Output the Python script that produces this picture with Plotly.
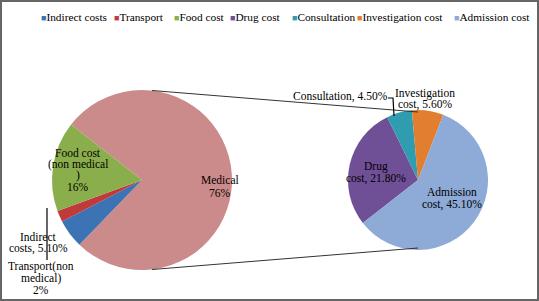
import plotly.graph_objects as go

# ---------------- data ----------------
left_labels = ["Medical", "Indirect costs", "Transport", "Food cost"]
left_values = [76, 5.1, 2, 16]
left_text = ["Medical<br>76%", "Indirect<br>costs, 5.10%",
             "Transport(non<br>medical)<br>2%", "Food cost<br>(non medical<br>)<br>16%"]

right_labels = ["Drug cost", "Consultation", "Investigation cost", "Admission cost"]
right_values = [21.8, 4.5, 5.6, 45.1]
right_text = ["Drug<br>cost, 21.80%", "Consultation, 4.50%",
              "Investigation<br>cost, 5.60%", "Admission<br>cost, 45.10%"]

legend_labels = ["Indirect costs", "Transport", "Food cost", "Drug cost",
                 "Consultation", "Investigation cost", "Admission cost"]

# ---------------- styles ----------------
colors = {
    "Medical": "#CB8B8A",
    "Indirect costs": "#3B73B4",
    "Transport": "#C03A3C",
    "Food cost": "#8BAE4C",
    "Drug cost": "#6F4F96",
    "Consultation": "#2F9CB0",
    "Investigation cost": "#E27E2F",
    "Admission cost": "#8EAAD6",
}
W, H = 539, 301
FONT = "Times New Roman, Liberation Serif, serif"


def px(x):
    return x / W


def py(y):
    return 1 - y / H


# pie geometry (pixels)
LC, LR = (142, 180), 90
RC, RR = (418, 180), 70

fig = go.Figure()
fig.add_trace(go.Pie(
    labels=left_labels, values=left_values, sort=False, direction="clockwise",
    rotation=-52, textinfo="none", hoverinfo="label+percent",
    marker=dict(colors=[colors[l] for l in left_labels], line=dict(width=0)),
    domain=dict(x=[px(LC[0] - LR), px(LC[0] + LR)], y=[py(LC[1] + LR), py(LC[1] - LR)]),
    showlegend=False,
))
fig.add_trace(go.Pie(
    labels=right_labels, values=right_values, sort=False, direction="clockwise",
    rotation=-128, textinfo="none", hoverinfo="label+percent",
    marker=dict(colors=[colors[l] for l in right_labels], line=dict(width=0)),
    domain=dict(x=[px(RC[0] - RR), px(RC[0] + RR)], y=[py(RC[1] + RR), py(RC[1] - RR)]),
    showlegend=False,
))

shapes = []
# connector lines between the pies (top and bottom)
for sgn in (-1, 1):
    shapes.append(dict(type="line", xref="paper", yref="paper",
                       x0=px(LC[0] + 10), y0=py(LC[1] + sgn * (LR - 0.5)),
                       x1=px(RC[0]), y1=py(RC[1] + sgn * (RR - 2)),
                       line=dict(color="#333333", width=1)))
# leader lines
shapes.append(dict(type="line", xref="paper", yref="paper",
                   x0=px(47), y0=py(208), x1=px(47), y1=py(260),
                   line=dict(color="#000000", width=1.2)))
shapes.append(dict(type="path", xref="paper", yref="paper",
                   path=f"M {px(388)} {py(98)} L {px(393)} {py(98)} L {px(394)} {py(116)}",
                   line=dict(color="#000000", width=1.2)))
# outer frame
shapes.append(dict(type="rect", xref="paper", yref="paper",
                   x0=px(1), y0=py(300), x1=px(538), y1=py(1),
                   line=dict(color="#666666", width=2)))

annotations = []
# slice labels: (center x, first-line y, line spacing) in pixels
label_pos = {
    "Medical": (220, 180, 12.5),
    "Indirect costs": (38.5, 236.5, 11.5),
    "Transport": (41, 266.5, 11.5),
    "Food cost": (78, 153, 11.4),
    "Drug cost": (376, 166.5, 11.5),
    "Consultation": (340, 96.5, 11),
    "Investigation cost": (425, 93.5, 11.5),
    "Admission cost": (452, 192, 12),
}
for labs, texts in ((left_labels, left_text), (right_labels, right_text)):
    for lab, txt in zip(labs, texts):
        x, y0, dy = label_pos[lab]
        for i, line in enumerate(txt.split("<br>")):
            annotations.append(dict(x=px(x), y=py(y0 + i * dy), xref="paper", yref="paper",
                                    text=line, showarrow=False, xanchor="center",
                                    yanchor="middle", align="center", borderpad=0,
                                    font=dict(family=FONT, size=11.5, color="#000000")))
# legend
legend_x = [40, 113, 173, 229, 291, 356, 453]
for lab, x in zip(legend_labels, legend_x):
    annotations.append(dict(
        x=px(x), y=py(17), xref="paper", yref="paper", xanchor="left", yanchor="middle",
        showarrow=False, borderpad=0,
        text=f"<span style='color:{colors[lab]};font-size:9px'>■</span>{lab}",
        font=dict(family=FONT, size=11.3, color="#000000")))

fig.update_layout(
    width=W, height=H, margin=dict(l=0, r=0, t=0, b=0),
    paper_bgcolor="white", plot_bgcolor="white",
    shapes=shapes, annotations=annotations,
)
fig.write_html("out.html", config={"displayModeBar": False},
               post_script="document.body.style.margin='0px';")
